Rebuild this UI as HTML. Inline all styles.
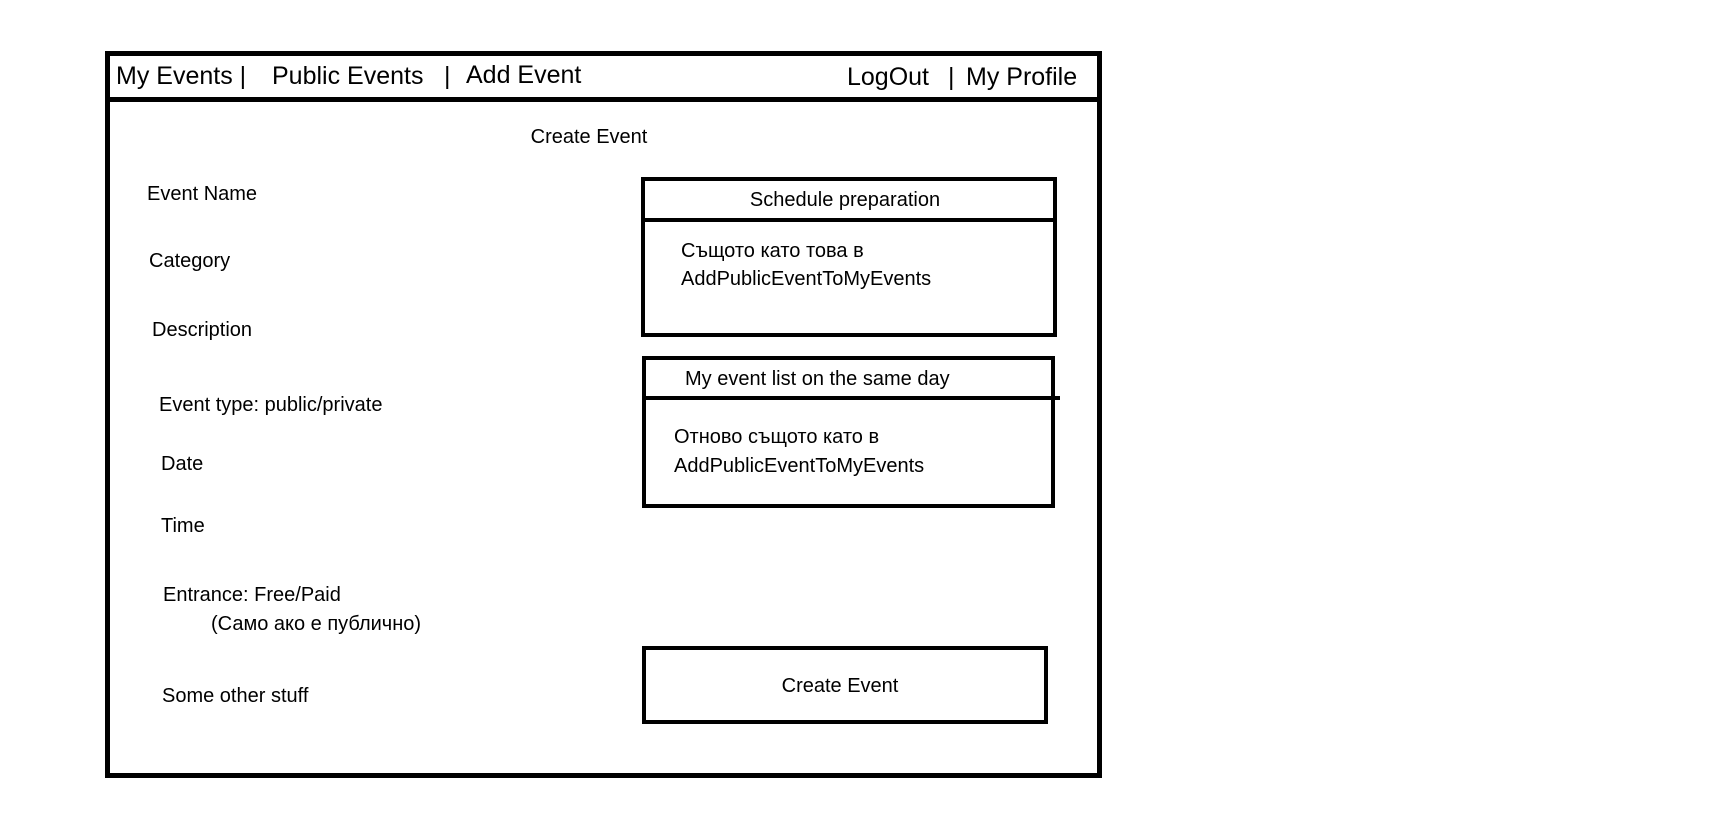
<!DOCTYPE html>
<html><head><meta charset="utf-8"><style>
body{margin:0;width:1709px;height:816px;background:#fff;position:relative;overflow:hidden;font-family:"Liberation Sans","DejaVu Sans",sans-serif;color:#000}
.a{position:absolute;white-space:nowrap;line-height:1}
.t{font-size:20px}
.n{font-size:25px}
.b{position:absolute;border:4px solid #000;box-sizing:border-box}
.l{position:absolute;background:#000}
</style></head><body>
<div class="b" style="left:105px;top:51px;width:997px;height:727px;border-width:5px"></div>
<div class="l" style="left:105px;top:97px;width:997px;height:5px"></div>
<div class="a n" style="left:116px;top:64px">My Events |</div>
<div class="a n" style="left:272px;top:64px">Public Events</div>
<div class="a n" style="left:444px;top:64px">|</div>
<div class="a n" style="left:466px;top:63px">Add Event</div>
<div class="a n" style="left:847px;top:65px">LogOut</div>
<div class="a n" style="left:948px;top:65px">|</div>
<div class="a n" style="left:966px;top:65px">My Profile</div>
<div class="a t" style="left:589px;top:127px;transform:translateX(-50%)">Create Event</div>
<div class="a t" style="left:147px;top:184px">Event Name</div>
<div class="a t" style="left:149px;top:251px">Category</div>
<div class="a t" style="left:152px;top:320px">Description</div>
<div class="a t" style="left:159px;top:395px">Event type: public/private</div>
<div class="a t" style="left:161px;top:454px">Date</div>
<div class="a t" style="left:161px;top:516px">Time</div>
<div class="a t" style="left:163px;top:585px">Entrance: Free/Paid</div>
<div class="a t" style="left:211px;top:614px">(Само ако е публично)</div>
<div class="a t" style="left:162px;top:686px">Some other stuff</div>
<div class="b" style="left:641px;top:177px;width:416px;height:160px"></div>
<div class="l" style="left:641px;top:218px;width:416px;height:4px"></div>
<div class="a t" style="left:845px;top:190px;transform:translateX(-50%)">Schedule preparation</div>
<div class="a t" style="left:681px;top:241px">Същото като това в</div>
<div class="a t" style="left:681px;top:269px">AddPublicEventToMyEvents</div>
<div class="b" style="left:642px;top:356px;width:413px;height:152px"></div>
<div class="l" style="left:642px;top:396px;width:418px;height:4px"></div>
<div class="a t" style="left:685px;top:369px">My event list on the same day</div>
<div class="a t" style="left:674px;top:427px">Отново същото като в</div>
<div class="a t" style="left:674px;top:456px">AddPublicEventToMyEvents</div>
<div class="b" style="left:642px;top:646px;width:406px;height:78px"></div>
<div class="a t" style="left:840px;top:676px;transform:translateX(-50%)">Create Event</div>
</body></html>
